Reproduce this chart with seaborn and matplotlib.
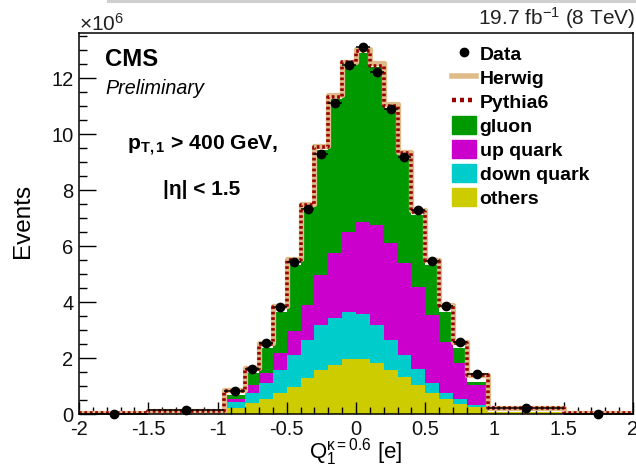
import numpy as np
import pandas as pd
import matplotlib
matplotlib.use("Agg")
import matplotlib.pyplot as plt
from matplotlib.lines import Line2D
from matplotlib.patches import Patch, Rectangle
from matplotlib.ticker import MultipleLocator, FuncFormatter
import seaborn as sns

# ---- jet charge distribution, leading jet (yields in units of 10^6 events) ----
bin_edges = [-2.0, -1.5, -0.95, -0.8, -0.7, -0.6, -0.5, -0.4, -0.3, -0.2, -0.1,
             0.0, 0.1, 0.2, 0.3, 0.4, 0.5, 0.6, 0.7, 0.8, 0.95, 1.5, 2.0]

data_yield = [0.01, 0.14, 0.84, 1.62, 2.56, 3.84, 5.44, 7.32, 9.30, 11.11, 12.49,
              13.13, 12.21, 10.90, 9.19, 7.29, 5.48, 3.88, 2.59, 1.43, 0.24, 0.01]
herwig_yield = [0.04, 0.13, 0.86, 1.65, 2.55, 3.87, 5.55, 7.52, 9.60, 11.40, 12.60,
                13.05, 12.55, 11.10, 9.38, 7.30, 5.52, 3.90, 2.58, 1.42, 0.23, 0.04]
pythia_yield = [0.04, 0.12, 0.84, 1.63, 2.51, 3.84, 5.50, 7.47, 9.54, 11.34, 12.57,
                12.99, 12.45, 11.01, 9.32, 7.24, 5.48, 3.86, 2.55, 1.40, 0.22, 0.04]

# flavour composition of the simulated sample
gluon = [0.01, 0.01, 0.14, 0.41, 0.90, 1.49, 2.36, 3.50, 4.47, 5.48, 5.98,
         6.02, 5.64, 4.84, 3.86, 2.58, 1.78, 1.07, 0.54, 0.11, 0.01, 0.00]
up_quark = [0.00, 0.01, 0.10, 0.28, 0.33, 0.60, 0.85, 1.25, 1.79, 2.34, 2.86,
            3.30, 3.57, 3.46, 3.27, 2.93, 2.42, 1.82, 1.28, 0.72, 0.01, 0.00]
down_quark = [0.00, 0.01, 0.24, 0.38, 0.59, 0.83, 1.13, 1.36, 1.61, 1.67, 1.70,
              1.62, 1.37, 1.07, 0.78, 0.56, 0.38, 0.22, 0.17, 0.06, 0.01, 0.00]
others = [0.01, 0.05, 0.21, 0.39, 0.54, 0.75, 0.99, 1.29, 1.58, 1.76, 1.96,
          1.96, 1.82, 1.58, 1.34, 1.05, 0.75, 0.55, 0.37, 0.27, 0.07, 0.01]

component_names = ["gluon", "up quark", "down quark", "others"]
component_colors = ["#009900", "#cc00cc", "#00cccc", "#cccc00"]
herwig_color = "#dfbb8a"
pythia_color = "#990000"

# ---- style ----
plt.rcParams["font.family"] = ["Liberation Sans", "DejaVu Sans"]
plt.rcParams["mathtext.fontset"] = "custom"
plt.rcParams["mathtext.rm"] = "Liberation Sans"
plt.rcParams["mathtext.it"] = "Liberation Sans:italic"
plt.rcParams["mathtext.bf"] = "Liberation Sans:bold"
plt.rcParams["axes.unicode_minus"] = False

edges = np.array(bin_edges)
centers = 0.5 * (edges[:-1] + edges[1:])
half_widths = 0.5 * np.diff(edges)

stack_df = pd.DataFrame({
    "charge": np.tile(centers, 4),
    "events": np.concatenate([gluon, up_quark, down_quark, others]),
    "flavour": np.repeat(component_names, len(centers)),
})
herwig_df = pd.DataFrame({"charge": centers, "events": herwig_yield})
pythia_df = pd.DataFrame({"charge": centers, "events": pythia_yield})

fig = plt.figure(figsize=(6.36, 4.65), dpi=100)
ax = fig.add_axes([79 / 636, 1 - 414.3 / 465, (633 - 79) / 636, (414.3 - 32.7) / 465])

# stacked flavour templates (last hue level sits at the bottom)
sns.histplot(data=stack_df, x="charge", weights="events", hue="flavour",
             hue_order=component_names, palette=component_colors,
             bins=bin_edges, multiple="stack", element="step", fill=True,
             alpha=1.0, linewidth=0, legend=False, ax=ax)

# generator predictions as outlines
sns.histplot(data=herwig_df, x="charge", weights="events", bins=bin_edges,
             element="step", fill=False, color=herwig_color, linewidth=3.8, ax=ax)
sns.histplot(data=pythia_df, x="charge", weights="events", bins=bin_edges,
             element="step", fill=False, color=pythia_color, linewidth=2.6,
             linestyle=(0, (0.75, 0.75)), ax=ax)

# measured data
ax.errorbar(centers, data_yield, xerr=half_widths, fmt="o", color="black",
            markersize=6, elinewidth=1.1, capsize=0, zorder=10, clip_on=False)

ax.set_xlim(-2, 2)
ax.set_ylim(0, 13.63)
ax.xaxis.set_major_locator(MultipleLocator(0.5))
ax.xaxis.set_minor_locator(MultipleLocator(0.1))
ax.yaxis.set_major_locator(MultipleLocator(2))
ax.yaxis.set_minor_locator(MultipleLocator(0.5))
ax.xaxis.set_major_formatter(FuncFormatter(lambda v, p: f"{v:g}"))
ax.yaxis.set_major_formatter(FuncFormatter(lambda v, p: f"{v:g}"))
ax.tick_params(axis="both", which="both", direction="in", top=False, right=False,
               width=1.0, colors="black", labelsize=14.5, labelcolor="#111111")
ax.tick_params(axis="x", which="major", length=8.6, pad=4)
ax.tick_params(axis="x", which="minor", length=5)
ax.tick_params(axis="y", which="major", length=12, pad=4)
ax.tick_params(axis="y", which="minor", length=6)
for side in ax.spines.values():
    side.set_linewidth(1.1)
    side.set_color("black")

ax.set_ylabel("Events", fontsize=17.5)
ax.yaxis.set_label_coords(-0.082, 0.508)
ax.set_xlabel(r"Q$_1^{\mathregular{κ=0.6}}$ [e]", fontsize=16)
ax.xaxis.label.set_verticalalignment("baseline")
ax.xaxis.set_label_coords(0.5, (414.3 - 458) / 381.6)

# legend
handles = [
    Line2D([], [], ls="none", marker="o", color="black", markersize=6),
    Line2D([], [], color=herwig_color, lw=4),
    Line2D([], [], color=pythia_color, lw=3.2, ls=(0, (0.9, 0.9))),
] + [Patch(facecolor=c, edgecolor=c) for c in component_colors]
labels = ["Data", "Herwig", "Pythia6"] + component_names
ax.legend(handles, labels, loc="upper left", bbox_to_anchor=(0.673, 0.970),
          frameon=False, prop={"weight": "bold", "size": 14},
          handlelength=1.25, handleheight=1.0, handletextpad=0.18,
          labelspacing=0.24, borderpad=0, borderaxespad=0)

# annotations
fig.text(79 / 636, 1 - 31 / 465, "×10$^{6}$", fontsize=15, color="#222222",
         ha="left", va="baseline")
fig.text(635 / 636, 1 - 25 / 465, "19.7 fb$^{-1}$ (8 TeV)", fontsize=15,
         color="#222222", ha="right", va="baseline")
fig.text(105 / 636, 1 - 66 / 465, "CMS", fontsize=17.2, fontweight="bold",
         ha="left", va="baseline")
fig.text(105 / 636, 1 - 94.3 / 465, "Preliminary", fontsize=14.2, fontstyle="italic",
         ha="left", va="baseline")
fig.text(127 / 636, 1 - 150.7 / 465, r"p$_{\mathbf{T,1}}$ > 400 GeV,", fontsize=15.2,
         fontweight="bold", ha="left", va="baseline")
fig.text(163 / 636, 1 - 195 / 465, "|η| < 1.5", fontsize=15, fontweight="bold",
         ha="left", va="baseline")

# thin grey band along the top edge
fig.patches.append(Rectangle((107 / 636, 1 - 3 / 465), 1 - 107 / 636, 3 / 465,
                             transform=fig.transFigure, facecolor="#cfcfcf",
                             edgecolor="none"))

fig.savefig("out.png", dpi=100)
